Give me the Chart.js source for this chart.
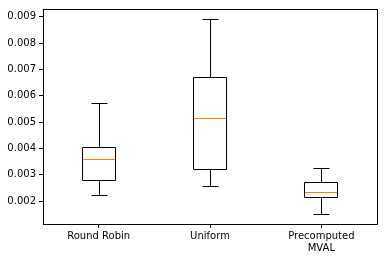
<!DOCTYPE html>
<html>
<head>
<meta charset="utf-8">
<script src="https://cdn.jsdelivr.net/npm/chart.js@4"></script>
<style>
  html, body { margin: 0; padding: 0; background: #fff; }
  #wrap { width: 384px; height: 260px; }
</style>
</head>
<body>
<div id="wrap"><canvas id="chartBox"></canvas></div>
<script>
// Datos
const categories = ['Round Robin', 'Uniform', ['Precomputed', 'MVAL']];
const whiskerLow = [0.00225, 0.00259, 0.00151];
const q1 = [0.00282, 0.00323, 0.00214];
const median = [0.00361, 0.00515, 0.00236];
const q3 = [0.00405, 0.00672, 0.00274];
const whiskerHigh = [0.00571, 0.00891, 0.00327];
const yTicks = [0.002, 0.003, 0.004, 0.005, 0.006, 0.007, 0.008, 0.009];

const FONT = { family: 'DejaVu Sans', size: 10 };

function px(v) { return Math.round(v) + 0.5; }

// Cajas nitidas, bigotes, medianas y marco con las escalas de Chart.js
const boxExtras = {
    id: 'boxExtras',
    afterDatasetsDraw: function (chart) {
        const ctx = chart.ctx;
        const x = chart.scales.x;
        const y = chart.scales.y;
        const meta = chart.getDatasetMeta(0);
        ctx.save();
        ctx.lineWidth = 1;
        for (let i = 0; i < categories.length; i++) {
            const bar = meta.data[i];
            const cx = px(x.getPixelForValue(i));
            const bw = Math.round(bar.width);
            const cap = Math.round(bw / 4);
            const left = cx - Math.round(bw / 2);
            const right = left + bw;
            const yLo = px(y.getPixelForValue(whiskerLow[i]));
            const yQ1 = px(y.getPixelForValue(q1[i]));
            const yQ3 = px(y.getPixelForValue(q3[i]));
            const yHi = px(y.getPixelForValue(whiskerHigh[i]));
            const yMed = px(y.getPixelForValue(median[i]));
            ctx.strokeStyle = '#000';
            ctx.beginPath();
            ctx.rect(left, yQ3, bw, yQ1 - yQ3);
            ctx.moveTo(cx, yQ1); ctx.lineTo(cx, yLo);
            ctx.moveTo(cx - cap, yLo); ctx.lineTo(cx + cap, yLo);
            ctx.moveTo(cx, yQ3); ctx.lineTo(cx, yHi);
            ctx.moveTo(cx - cap, yHi); ctx.lineTo(cx + cap, yHi);
            ctx.stroke();
            ctx.strokeStyle = '#ff7f0e';
            ctx.beginPath();
            ctx.moveTo(left + 0.5, yMed); ctx.lineTo(right - 0.5, yMed);
            ctx.stroke();
        }
        const a = chart.chartArea;
        ctx.strokeStyle = '#000';
        ctx.strokeRect(px(a.left), px(a.top),
            Math.round(a.right - a.left), Math.round(a.bottom - a.top));
        ctx.restore();
    }
};

new Chart(document.getElementById('chartBox'), {
    type: 'bar',
    data: {
        labels: categories,
        datasets: [{
            data: q1.map(function (v, i) { return [v, q3[i]]; }),
            backgroundColor: 'rgba(0,0,0,0)',
            borderColor: 'rgba(0,0,0,0)',
            borderWidth: 0,
            barPercentage: 0.3,
            categoryPercentage: 1.0,
        }],
    },
    options: {
        responsive: true,
        maintainAspectRatio: false,
        animation: false,
        layout: { padding: { top: 7, right: 7, left: 0, bottom: 0 } },
        plugins: {
            legend: { display: false },
            tooltip: { enabled: false },
        },
        scales: {
            x: {
                offset: true,
                grid: { offset: false, drawOnChartArea: false, drawTicks: true, tickLength: 4, color: '#000' },
                border: { color: '#000' },
                ticks: { color: '#000', font: FONT, padding: 2, maxRotation: 0 },
                afterFit: function (s) { s.height = 36; },
            },
            y: {
                min: 0.00113,
                max: 0.0093,
                afterBuildTicks: function (s) { s.ticks = yTicks.map(function (v) { return { value: v }; }); },
                grid: { drawOnChartArea: false, drawTicks: true, tickLength: 4, color: '#000' },
                border: { color: '#000' },
                ticks: {
                    color: '#000', font: FONT, padding: 3,
                    callback: function (v) { return v.toFixed(3); },
                },
                afterFit: function (s) { s.width = 43; },
            },
        },
    },
    plugins: [boxExtras],
});
</script>
</body>
</html>
